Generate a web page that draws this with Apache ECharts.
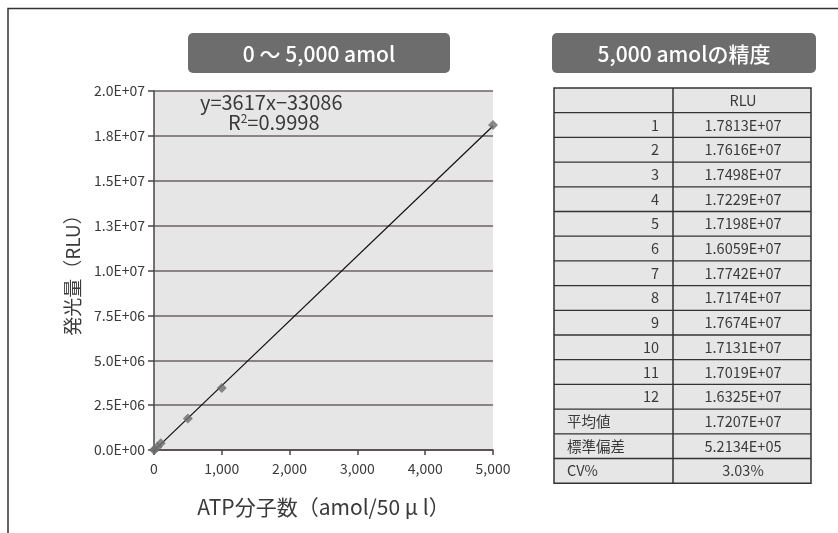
<!DOCTYPE html>
<html>
<head>
<meta charset="utf-8">
<title>ATP検量線</title>
<script src="https://cdn.jsdelivr.net/npm/echarts@6/dist/echarts.min.js"></script>
<style>
    html, body { margin: 0; padding: 0; background: #fff; }
    #chart { width: 838px; height: 533px; }
</style>
</head>
<body>
<div id="chart"></div>
<script>
var atpAmol = [0, 10, 50, 100, 500, 1000, 5000];
var rluMeasured = [0, 30000, 170000, 380000, 1750000, 3450000, 18100000];

// 近似直線 y=3617x-33086 の両端
var fitX = [0, 5000];
var fitY = [-33086, 18051914];

var equationText = 'y=3617x−33086';
var r2Text = '0.9998';

// 5,000 amolの精度 表
var tableHeader = ['', 'RLU'];
var replicateNo = ['1', '2', '3', '4', '5', '6', '7', '8', '9', '10', '11', '12'];
var replicateRlu = ['1.7813E+07', '1.7616E+07', '1.7498E+07', '1.7229E+07', '1.7198E+07', '1.6059E+07',
    '1.7742E+07', '1.7174E+07', '1.7674E+07', '1.7131E+07', '1.7019E+07', '1.6325E+07'];
var statLabels = ['平均値', '標準偏差', 'CV%'];
var statValues = ['1.7207E+07', '5.2134E+05', '3.03%'];

var FONT = "'Noto Sans CJK JP', 'Noto Sans', sans-serif";
var TEXT_COLOR = '#3a3a3a';

function sciLabel(val) {
    var s = Number(val).toExponential(1).toUpperCase();
    var parts = s.split('E');
    var sign = parts[1].charAt(0);
    var exp = parts[1].slice(1);
    if (exp.length < 2) exp = '0' + exp;
    return parts[0] + 'E' + sign + exp;
}

function buildTable() {
    var x0 = 554, x1 = 673, x2 = 811, y0 = 88, rowH = 24.7;
    var rows = [];
    rows.push({ a: tableHeader[0], b: tableHeader[1], left: false });
    for (var i = 0; i < replicateNo.length; i++) {
        rows.push({ a: replicateNo[i], b: replicateRlu[i], left: false });
    }
    for (var j = 0; j < statLabels.length; j++) {
        rows.push({ a: statLabels[j], b: statValues[j], left: true });
    }
    var els = [];
    var totalH = rowH * rows.length;
    els.push({
        type: 'rect',
        shape: { x: x0, y: y0, width: x2 - x0, height: totalH },
        style: { fill: '#e6e6e6', stroke: '#333', lineWidth: 1.5 }
    });
    for (var r = 0; r < rows.length; r++) {
        var cy = y0 + rowH * r + rowH / 2;
        if (r > 0) {
            els.push({
                type: 'line',
                shape: { x1: x0, y1: y0 + rowH * r, x2: x2, y2: y0 + rowH * r },
                style: { stroke: '#333', lineWidth: 1.3 }
            });
        }
        els.push({
            type: 'text',
            x: rows[r].left ? x0 + 13 : x1 - 14,
            y: cy,
            style: {
                text: rows[r].a, font: '14.5px ' + FONT, fill: TEXT_COLOR,
                align: rows[r].left ? 'left' : 'right', verticalAlign: 'middle'
            }
        });
        els.push({
            type: 'text',
            x: (x1 + x2) / 2 + 1,
            y: cy,
            style: {
                text: rows[r].b, font: '14.5px ' + FONT, fill: TEXT_COLOR,
                align: 'center', verticalAlign: 'middle'
            }
        });
    }
    els.push({
        type: 'line',
        shape: { x1: x1, y1: y0, x2: x1, y2: y0 + totalH },
        style: { stroke: '#333', lineWidth: 1.5 }
    });
    return els;
}

function titleBox(x, y, w, h, text) {
    return [{
        type: 'rect',
        shape: { x: x, y: y, width: w, height: h, r: 5 },
        style: { fill: '#6d6d6d' }
    }, {
        type: 'text',
        x: x + w / 2,
        y: y + h / 2 + 1,
        style: {
            text: text, font: '500 21px ' + FONT, fill: '#fff',
            align: 'center', verticalAlign: 'middle'
        }
    }];
}

var chart = echarts.init(document.getElementById('chart'));

var graphics = [];
// 外枠 (上と左)
graphics.push({
    type: 'polyline',
    shape: { points: [[8, 533], [8, 8.5], [838, 8.5]] },
    style: { stroke: '#333', lineWidth: 1.5, fill: null }
});
graphics = graphics.concat(titleBox(188, 33, 262, 40, '0 ～ 5,000 amol'));
graphics = graphics.concat(titleBox(552, 33, 264, 40, '5,000 amolの精度'));
graphics = graphics.concat(buildTable());
graphics.push({
    type: 'text',
    x: 200,
    y: 102,
    style: {
        text: equationText, font: '20px ' + FONT, fill: TEXT_COLOR,
        verticalAlign: 'middle'
    }
});
graphics.push({
    type: 'text',
    x: 228,
    y: 122,
    style: {
        text: 'R{sup|2}=' + r2Text,
        font: '20px ' + FONT, fill: TEXT_COLOR,
        verticalAlign: 'middle',
        rich: {
            sup: { fontSize: 12, fontFamily: FONT, fill: TEXT_COLOR, verticalAlign: 'top', padding: [0, 0, 8, 0] }
        }
    }
});

var pts = [];
for (var i = 0; i < atpAmol.length; i++) {
    pts.push([atpAmol[i], rluMeasured[i]]);
}
var fitPts = [];
for (var k = 0; k < fitX.length; k++) {
    fitPts.push([fitX[k], fitY[k]]);
}

var option = {
    animation: false,
    backgroundColor: '#fff',
    grid: {
        left: 154,
        right: 345,
        top: 91,
        bottom: 83,
        show: true,
        backgroundColor: '#e6e6e6',
        borderWidth: 0
    },
    xAxis: {
        type: 'value',
        min: 0,
        max: 5000,
        interval: 1000,
        name: 'ATP分子数（amol/50 µ l）',
        nameLocation: 'middle',
        nameGap: 47,
        nameTextStyle: { fontSize: 21, fontFamily: FONT, color: TEXT_COLOR },
        axisLine: { show: true, onZero: false, lineStyle: { color: '#4a4444', width: 1.5 } },
        axisTick: { show: true, length: 5, lineStyle: { color: '#4a4444', width: 1.5 } },
        axisLabel: {
            margin: 12,
            fontSize: 14,
            fontFamily: FONT,
            color: TEXT_COLOR,
            formatter: function (v) { return Number(v).toLocaleString('en-US'); }
        },
        splitLine: { show: false }
    },
    yAxis: {
        type: 'value',
        min: 0,
        max: 20000000,
        interval: 2500000,
        name: '発光量（RLU）',
        nameLocation: 'middle',
        nameGap: 72,
        nameRotate: 90,
        nameTextStyle: { fontSize: 19, fontFamily: FONT, color: TEXT_COLOR },
        axisLine: { show: true, lineStyle: { color: '#4a4444', width: 1.5 } },
        axisTick: { show: true, length: 6, lineStyle: { color: '#4a4444', width: 1.5 } },
        axisLabel: {
            margin: 9,
            fontSize: 14,
            fontFamily: FONT,
            color: TEXT_COLOR,
            formatter: sciLabel
        },
        splitLine: { show: true, lineStyle: { color: '#6b6363', width: 1.5 } }
    },
    series: [{
        name: 'fit',
        type: 'line',
        data: fitPts,
        symbol: 'none',
        clip: true,
        lineStyle: { color: '#111', width: 1.2 },
        z: 3
    }, {
        name: 'RLU',
        type: 'scatter',
        data: pts,
        symbol: 'diamond',
        symbolSize: 10,
        itemStyle: { color: '#6d6d6d' },
        z: 4
    }],
    graphic: graphics
};

chart.setOption(option);
</script>
</body>
</html>
